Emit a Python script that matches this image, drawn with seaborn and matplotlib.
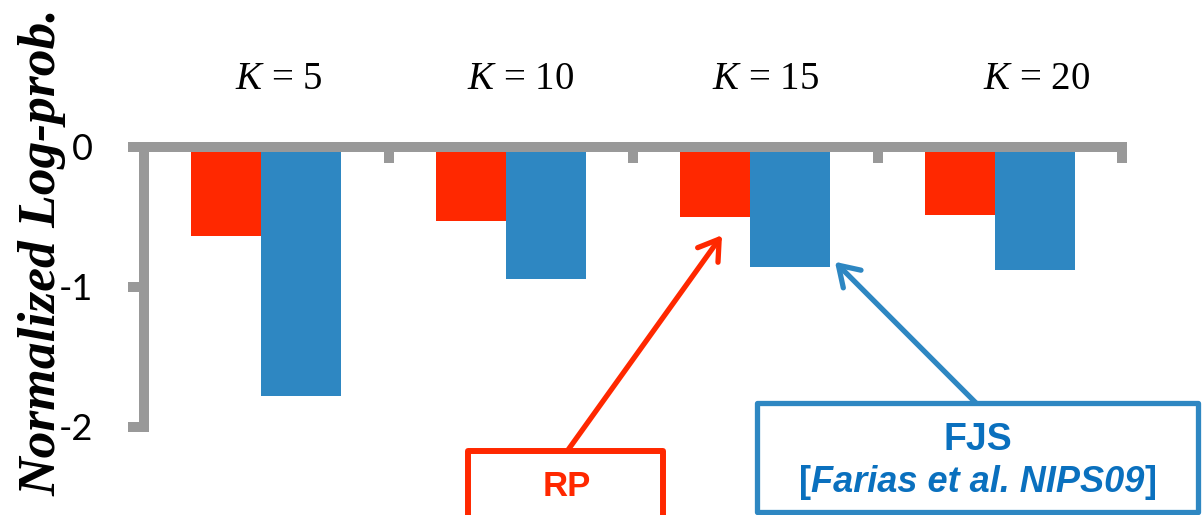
import matplotlib
matplotlib.use("Agg")
import matplotlib.pyplot as plt
from matplotlib.patches import Rectangle
import seaborn as sns
import pandas as pd

# Data
k_values = ["5", "10", "15", "20"]
rp_values = [-0.636, -0.53, -0.50, -0.486]
fjs_values = [-1.776, -0.945, -0.855, -0.88]
methods = ["RP", "FJS"]
y_ticks = [0, -1, -2]
y_tick_labels = ["0", "-1", "-2"]

RED = "#FF2800"
BLUE = "#2E87C2"
TEXT_BLUE = "#0A70BE"
GRAY = "#999999"

df = pd.DataFrame({
    "K": k_values * 2,
    "method": [methods[0]] * len(k_values) + [methods[1]] * len(k_values),
    "value": rp_values + fjs_values,
})

sns.set_theme(style="white")
plt.rcParams["axes.unicode_minus"] = False
plt.rcParams["mathtext.fontset"] = "custom"
plt.rcParams["mathtext.it"] = "Liberation Serif:italic"
plt.rcParams["mathtext.rm"] = "Liberation Serif"

W, H = 1202, 515
fig = plt.figure(figsize=(W / 100, H / 100), dpi=100)
ax = fig.add_axes([144 / W, 1 - 427 / H, 978 / W, 280 / H])

sns.barplot(data=df, x="K", y="value", hue="method", order=k_values,
            hue_order=methods, palette=[RED, BLUE], width=0.614, gap=0,
            saturation=1, legend=False, ax=ax)

# red bars slightly narrower, blue bars butting against them
for p in ax.patches:
    fc = p.get_facecolor()
    if fc[0] > 0.9:
        p.set_width(0.286)
    else:
        p.set_x(p.get_x() - 0.021)
        p.set_width(0.328)
    p.set_edgecolor("none")

ax.set_xlim(-0.5, 3.5)
ax.set_ylim(-2, 0)

# axis styling: thick gray lines, x axis along the zero line at the top
for s in ["bottom", "right"]:
    ax.spines[s].set_visible(False)
for s in ["top", "left"]:
    ax.spines[s].set_color(GRAY)
    ax.spines[s].set_linewidth(7.2)
    ax.spines[s].set_zorder(3)

ax.xaxis.set_ticks_position("top")
ax.set_xticks([0.5, 1.5, 2.5, 3.5])
ax.set_xticklabels([])
ax.tick_params(axis="x", which="major", top=True, bottom=False, direction="in",
               length=11.5, width=7.2, color=GRAY)
ax.set_yticks(y_ticks)
ax.set_yticklabels(y_tick_labels)
ax.tick_params(axis="y", which="major", left=True, direction="out",
               length=11.5, width=7.2, color=GRAY, pad=25,
               labelsize=26, labelcolor="black")
for lbl in ax.get_yticklabels():
    lbl.set_fontfamily("Lato")
ax.set_xlabel("")
ax.set_ylabel("")
ax.grid(False)

# K labels above each group
k_label_x = [0.05, 1.04, 2.04, 3.15]
for xk, k in zip(k_label_x, k_values):
    ax.text(xk, 0.48, f"$K$ = {k}", ha="center", va="center", fontsize=28,
            fontfamily="Liberation Serif", color="black", clip_on=False)

fig.text(43 / W, 1 - 252 / H, "Normalized Log-prob.", rotation=90,
         ha="center", va="center", fontsize=38.5, fontfamily="Liberation Serif",
         fontweight="bold", fontstyle="italic", color="black")

# callout boxes
fig.patches.append(Rectangle((468 / W, -0.05), (663 - 468) / W, 0.05 + (H - 451) / H,
                             transform=fig.transFigure, fill=False,
                             edgecolor=RED, linewidth=4.3, joinstyle="round"))
fig.text(567 / W, (H - 487) / H, "RP", ha="center", va="center",
         fontsize=25, fontweight="bold", fontfamily="Liberation Sans", color=RED)

fig.patches.append(Rectangle((757 / W, (H - 512) / H), (1198 - 757) / W, (512 - 403) / H,
                             transform=fig.transFigure, fill=False,
                             edgecolor=BLUE, linewidth=3.8, joinstyle="round"))
fig.text(978 / W, (H - 440) / H, "FJS", ha="center", va="center",
         fontsize=27, fontweight="bold", fontfamily="Liberation Sans", color=TEXT_BLUE)

# citation line: upright brackets around an italic reference
renderer = fig.canvas.get_renderer()
cite_style = dict(va="center", fontsize=26, fontweight="bold",
                  fontfamily="Liberation Sans", color=TEXT_BLUE)
pieces = [("[", "normal"), ("Farias et al. NIPS09", "italic"), ("]", "normal")]
texts = [fig.text(0, (H - 482) / H, s, ha="left", fontstyle=st, **cite_style)
         for s, st in pieces]
widths = [t.get_window_extent(renderer).width for t in texts]
x0 = 978 - sum(widths) / 2
for t, w in zip(texts, widths):
    t.set_x(x0 / W)
    x0 += w

# arrows from the boxes to the K = 15 bars
for tip, tail, col in [((1.864, -0.63), (568, H - 450), RED),
                       ((2.326, -0.82), (976, H - 403), BLUE)]:
    ax.annotate("", xy=tip, xycoords="data",
                xytext=tail, textcoords="figure pixels",
                arrowprops=dict(arrowstyle="->,head_length=0.7,head_width=0.45",
                                color=col, lw=3.8, mutation_scale=20,
                                capstyle="round", joinstyle="round",
                                shrinkA=0, shrinkB=0))

fig.savefig("out.png", dpi=100)
